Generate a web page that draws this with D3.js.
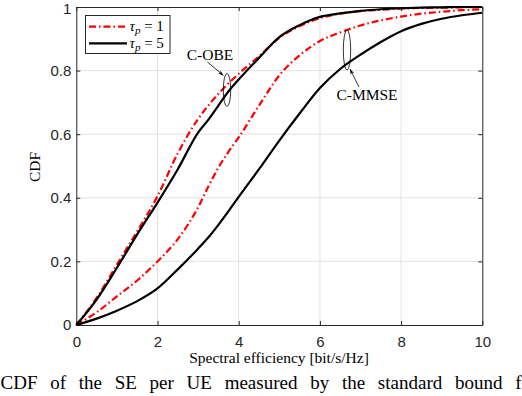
<!DOCTYPE html>
<html><head><meta charset="utf-8">
<script src="https://cdn.jsdelivr.net/npm/d3@7"></script>
<style>body{margin:0;background:#fff} svg{display:block}</style>
</head><body><svg id="c" width="522" height="396"></svg>
<script>
// ---- data ----
const seGrid = [0,0.5,1,1.5,2,2.5,3,3.25,3.5,3.75,4,4.5,5,5.5,6,6.5,7,7.5,8,8.5,9,9.5,10];
const obeTau1  = [0,0.085,0.19,0.295,0.405,0.54,0.648,0.69,0.727,0.76,0.79,0.845,0.903,0.94,0.965,0.979,0.987,0.991,0.995,0.997,0.998,0.999,1.0];
const obeTau5  = [0,0.08,0.18,0.285,0.385,0.49,0.605,0.645,0.69,0.735,0.772,0.84,0.905,0.943,0.969,0.98,0.988,0.993,0.996,0.998,0.999,1.0,1.0];
const mmseTau1 = [0,0.04,0.09,0.14,0.20,0.27,0.37,0.435,0.495,0.545,0.59,0.69,0.785,0.848,0.893,0.92,0.942,0.958,0.97,0.979,0.985,0.99,0.993];
const mmseTau5 = [0,0.02,0.045,0.075,0.115,0.175,0.24,0.275,0.315,0.358,0.403,0.49,0.58,0.665,0.745,0.805,0.85,0.89,0.924,0.947,0.963,0.974,0.982];
const xTicks = [0,2,4,6,8,10];
const yTicks = [0,0.2,0.4,0.6,0.8,1];
const legendLabels = ["1","5"];

const svg = d3.select("#c");
const L = 76.3, R = 482.3, T = 7, B = 325;
const x = d3.scaleLinear().domain([0,10]).range([L,R]);
const y = d3.scaleLinear().domain([0,1]).range([B,T]);
const axisCol = "#262626";
const sans = "'Liberation Sans', Arial, sans-serif";
const serif = "'Liberation Serif', 'Times New Roman', serif";

// grid
const g = svg.append("g");
g.selectAll(".gx").data(xTicks.slice(1,-1)).enter().append("line")
  .attr("x1", d=>x(d)).attr("x2", d=>x(d)).attr("y1", T).attr("y2", B)
  .attr("stroke", "#e3e3e3").attr("stroke-width", 1);
g.selectAll(".gy").data(yTicks.slice(1,-1)).enter().append("line")
  .attr("y1", d=>y(d)).attr("y2", d=>y(d)).attr("x1", L).attr("x2", R)
  .attr("stroke", "#e3e3e3").attr("stroke-width", 1);

// axes (ticks inward, box)
const ax = svg.append("g").attr("transform", `translate(0,${B})`)
  .call(d3.axisBottom(x).tickValues(xTicks).tickFormat(d3.format("d")).tickSizeInner(-4).tickSizeOuter(0).tickPadding(8));
const ay = svg.append("g").attr("transform", `translate(${L},0)`)
  .call(d3.axisLeft(y).tickValues(yTicks).tickFormat(d=> d===0||d===1 ? String(d) : d3.format(".1f")(d)).tickSizeInner(-4).tickSizeOuter(0).tickPadding(8));
const axt = svg.append("g").attr("transform", `translate(0,${T})`)
  .call(d3.axisTop(x).tickValues(xTicks).tickFormat("").tickSizeInner(-4).tickSizeOuter(0));
const ayr = svg.append("g").attr("transform", `translate(${R},0)`)
  .call(d3.axisRight(y).tickValues(yTicks).tickFormat("").tickSizeInner(-4).tickSizeOuter(0));
[ax, ay, axt, ayr].forEach(a => {
  a.select(".domain").attr("stroke", axisCol).attr("stroke-width", 1);
  a.selectAll(".tick line").attr("stroke", axisCol).attr("stroke-width", 1);
  a.selectAll("text").attr("fill", axisCol).attr("font-family", sans).attr("font-size", 15);
});
ax.selectAll("text").attr("dy", "0.71em").attr("y", 11);
ay.selectAll("text").attr("x", -5).attr("y", d => d === 1 ? 2 : 0);

// curves
const line = d3.line().x((d,i)=>x(seGrid[i])).y(d=>y(d)).curve(d3.curveMonotoneX);
const dashDot = "7,3,1.5,3";
const curves = [
  {v: obeTau1, c: "#ff0000", dash: dashDot},
  {v: mmseTau1, c: "#ff0000", dash: dashDot},
  {v: obeTau5, c: "#000000", dash: null},
  {v: mmseTau5, c: "#000000", dash: null}
];
svg.append("g").selectAll("path").data(curves).enter().append("path")
  .attr("d", d=>line(d.v)).attr("fill","none").attr("stroke", d=>d.c)
  .attr("stroke-width", 2.2).attr("stroke-dasharray", d=>d.dash);

// annotations
const ann = svg.append("g");
svg.append("defs").append("marker").attr("id","ah").attr("viewBox","0 0 10 10")
  .attr("refX",10).attr("refY",5).attr("markerWidth",7).attr("markerHeight",7).attr("orient","auto")
  .append("path").attr("d","M0,1.5 L10,5 L0,8.5 L3,5 Z").attr("fill","#000");
ann.append("ellipse").attr("cx", 227).attr("cy", 90).attr("rx", 3.7).attr("ry", 16.5)
  .attr("fill","none").attr("stroke","#000").attr("stroke-width",0.8);
ann.append("line").attr("x1",207.5).attr("y1",62).attr("x2",223.5).attr("y2",75.5)
  .attr("stroke","#000").attr("stroke-width",0.8).attr("marker-end","url(#ah)");
ann.append("text").attr("x", 210).attr("y", 60).attr("text-anchor","middle")
  .attr("font-family", serif).attr("font-size", 15.5).text("C-OBE");
ann.append("ellipse").attr("cx", 347).attr("cy", 50).attr("rx", 3.7).attr("ry", 20)
  .attr("fill","none").attr("stroke","#000").attr("stroke-width",0.8);
ann.append("line").attr("x1",359).attr("y1",87).attr("x2",350).attr("y2",69)
  .attr("stroke","#000").attr("stroke-width",0.8).attr("marker-end","url(#ah)");
ann.append("text").attr("x", 367).attr("y", 100).attr("text-anchor","middle")
  .attr("font-family", serif).attr("font-size", 15.5).text("C-MMSE");

// legend
const lg = svg.append("g");
lg.append("rect").attr("x",85.5).attr("y",15.5).attr("width",84.5).attr("height",38)
  .attr("fill","#fff").attr("stroke",axisCol).attr("stroke-width",1);
const lgItems = [{c:"#ff0000", dash: dashDot, lab: legendLabels[0]},{c:"#000", dash:null, lab: legendLabels[1]}];
lgItems.forEach((d,i)=>{
  const yy = 26.7 + i*16.6;
  lg.append("line").attr("x1",89).attr("x2",127).attr("y1",yy).attr("y2",yy)
    .attr("stroke",d.c).attr("stroke-width",2.2).attr("stroke-dasharray",d.dash);
  const t = lg.append("text").attr("x",129.5).attr("y",yy+4.5).attr("font-family",serif).attr("font-size",15);
  t.append("tspan").attr("font-style","italic").text("τ");
  t.append("tspan").attr("font-style","italic").attr("font-size",11).attr("dy",3).text("p");
  t.append("tspan").attr("dy",-3).text(" = " + d.lab);
});

// axis labels
svg.append("text").attr("x", 279).attr("y", 363).attr("text-anchor","middle")
  .attr("font-family", serif).attr("font-size", 15.5).attr("fill","#000").text("Spectral efficiency [bit/s/Hz]");
svg.append("text").attr("transform","translate(40,167) rotate(-90)").attr("text-anchor","middle")
  .attr("font-family", serif).attr("font-size", 15.5).attr("fill","#000").text("CDF");

// caption (cut off, from the paper)
const capText = "CDF of the SE per UE measured by the standard bound f";
const cap = svg.append("text").attr("x", 0.5).attr("y", 389).attr("font-family", serif).attr("font-size", 19)
  .text(capText);
const natural = cap.node().getComputedTextLength();
const nSpaces = capText.split(" ").length - 1;
cap.attr("word-spacing", Math.max(0, (521 - natural) / nSpaces));
</script></body></html>
